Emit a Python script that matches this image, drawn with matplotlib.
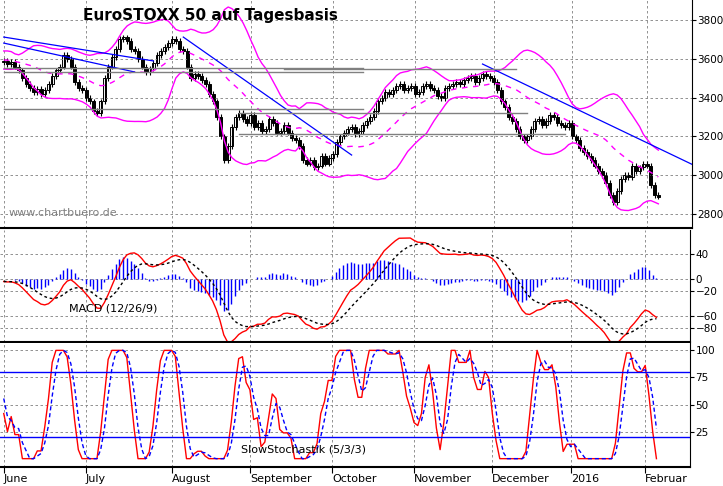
import numpy as np
import pandas as pd
import matplotlib.pyplot as plt

# warm-up closes (May 2015), not drawn
WARMUP = [3600, 3620, 3640, 3610, 3580, 3560, 3590, 3620, 3650, 3630, 3600, 3580,
          3560, 3570, 3600, 3620, 3610, 3590, 3570, 3560, 3580, 3600, 3590, 3580, 3585]

CLOSES = [
    # June
    3590, 3575, 3585, 3560, 3540, 3500, 3470, 3450, 3430, 3445, 3420, 3440, 3470, 3510, 3540, 3560, 3620, 3600, 3560, 3480, 3450, 3440,
    # July
    3400, 3380, 3330, 3320, 3380, 3500, 3560, 3610, 3650, 3700, 3710, 3690, 3650, 3640, 3600, 3560, 3530, 3550, 3580, 3620, 3640, 3660, 3680,
    # August
    3700, 3690, 3650, 3640, 3560, 3500, 3520, 3510, 3490, 3470, 3420, 3380, 3300, 3200, 3080, 3150, 3250, 3300, 3320, 3290, 3270,
    # September
    3310, 3250, 3270, 3230, 3240, 3290, 3270, 3220, 3230, 3260, 3220, 3190, 3180, 3150, 3080, 3060, 3080, 3040, 3050, 3100, 3060, 3090,
    # October
    3110, 3170, 3200, 3220, 3240, 3250, 3210, 3230, 3260, 3280, 3300, 3330, 3380, 3400, 3430, 3420, 3440, 3460, 3470, 3440, 3450, 3460,
    # November
    3420, 3430, 3460, 3470, 3450, 3440, 3410, 3400, 3450, 3460, 3470, 3480, 3470, 3490, 3500, 3510, 3480, 3500, 3520, 3510, 3500,
    # December
    3480, 3440, 3380, 3350, 3300, 3280, 3240, 3200, 3180, 3200, 3240, 3280, 3290, 3260, 3280, 3310, 3300, 3270, 3260, 3250, 3270,
    # January 2016
    3200, 3180, 3140, 3120, 3100, 3080, 3050, 3020, 3000, 2960, 2900, 2860, 2920, 2980, 3000, 2990, 3050, 3020, 3040, 3060,
    # February
    3050, 2950, 2900, 2890,
]

MONTH_LABELS = ['June', 'July', 'August', 'September', 'October', 'November', 'December', '2016', 'Februar']
MONTH_STARTS = [0, 22, 45, 66, 88, 110, 131, 152, 172]

# trend lines (day, price)
TRENDS = [((0, 3712), (40, 3589)), ((0, 3681), (35, 3532)),
          ((48, 3712), (93, 3104)), ((128, 3573), (189, 3010))]
# horizontal support/resistance (x0, x1, price)
LEVELS = [(0, 96, 3555), (0, 96, 3530), (75, 137, 3545), (0, 96, 3340), (63, 140, 3320),
          (63, 150, 3210)]

W, H = 723, 486
fig = plt.figure(figsize=(W / 100, H / 100), dpi=100)


def px_axes(top, bottom, left=0, right=690):
    return fig.add_axes([left / W, 1 - bottom / H, (right - left) / W, (bottom - top) / H])


ax1 = px_axes(0, 228, right=692)
ax2 = px_axes(230, 342)
ax3 = px_axes(343, 467)

allc = pd.Series(WARMUP + CLOSES, dtype=float)
n0 = len(WARMUP)
x = np.arange(len(CLOSES))
closes = np.array(CLOSES, dtype=float)
opens = np.array(allc.shift(1).values[n0:])

# Bollinger
ma = allc.rolling(20, min_periods=1).mean().values[n0:]
sd = allc.rolling(20, min_periods=1).std().fillna(0).values[n0:]

for i in x:
    o, c = opens[i], closes[i]
    lo, hi = min(o, c), max(o, c)
    ax1.vlines(i, lo - 15, hi + 15, color='black', lw=0.8)
    ax1.bar(i, max(hi - lo, 3), bottom=lo, width=0.8,
            color='white' if c >= o else 'black', edgecolor='black', lw=0.7)
ax1.plot(x, ma + 2 * sd, color='#ff00ff', lw=1)
ax1.plot(x, ma - 2 * sd, color='#ff00ff', lw=1)
ax1.plot(x, ma, color='#ff00ff', lw=1, ls=(0, (4, 4)))
for (a, b) in TRENDS:
    ax1.plot([a[0], b[0]], [a[1], b[1]], color='blue', lw=0.9)
for x0, x1, p in LEVELS:
    ax1.plot([x0, x1], [p, p], color='gray', lw=1)
ax1.set_ylim(2728, 3903)
ax1.set_yticks([2800, 3000, 3200, 3400, 3600, 3800])
ax1.text(0.12, 0.93, 'EuroSTOXX 50 auf Tagesbasis', transform=ax1.transAxes,
         fontsize=11, fontweight='bold', va='center')
ax1.text(0.012, 0.065, 'www.chartbuero.de', transform=ax1.transAxes,
         fontsize=8, color='gray', va='center')

# MACD
e12 = allc.ewm(span=12, adjust=False).mean()
e26 = allc.ewm(span=26, adjust=False).mean()
macd = e12 - e26
sig = macd.ewm(span=9, adjust=False).mean()
hist = (macd - sig).values[n0:]
ax2.vlines(x, 0, hist, color='blue', lw=1)
ax2.plot(x, macd.values[n0:], color='red', lw=1)
ax2.plot(x, sig.values[n0:], color='black', lw=1, ls=(0, (2, 2)))
ax2.set_ylim(-103, 80)
ax2.set_yticks([40, 0, -20, -60, -80])
ax2.text(0.1, 0.27, 'MACD (12/26/9)', transform=ax2.transAxes, fontsize=8)

# Slow stochastic
lo5 = allc.rolling(5, min_periods=1).min()
hi5 = allc.rolling(5, min_periods=1).max()
rawk = ((allc - lo5) / (hi5 - lo5).replace(0, np.nan) * 100).fillna(50)
k = rawk.rolling(3, min_periods=1).mean()
d = k.rolling(3, min_periods=1).mean()
ax3.plot(x, k.values[n0:], color='red', lw=1)
ax3.plot(x, d.values[n0:], color='blue', lw=1, ls=(0, (3, 2)))
ax3.axhline(80, color='blue', lw=1)
ax3.axhline(20, color='blue', lw=1)
ax3.set_ylim(-7.7, 106.8)
ax3.set_yticks([100, 75, 50, 25])
ax3.text(0.35, 0.12, 'SlowStochastik (5/3/3)', transform=ax3.transAxes, fontsize=8)

for ax in (ax1, ax2, ax3):
    ax.set_xlim(-1, 184)
    ax.yaxis.tick_right()
    ax.tick_params(axis='y', labelsize=7.5, length=3, pad=1)
    ax.set_xticks(MONTH_STARTS)
    ax.grid(True, color='gray', ls=(0, (3, 3)), lw=0.6)
    for s in ('top', 'left'):
        ax.spines[s].set_visible(False)
    ax.spines['bottom'].set_linewidth(1.5)
for ax in (ax1, ax2):
    ax.set_xticklabels([])
    ax.tick_params(axis='x', length=0)
ax3.set_xticklabels(MONTH_LABELS, fontsize=8, ha='left')
ax3.tick_params(axis='x', length=4, pad=1)

fig.savefig('out.png', dpi=100)
